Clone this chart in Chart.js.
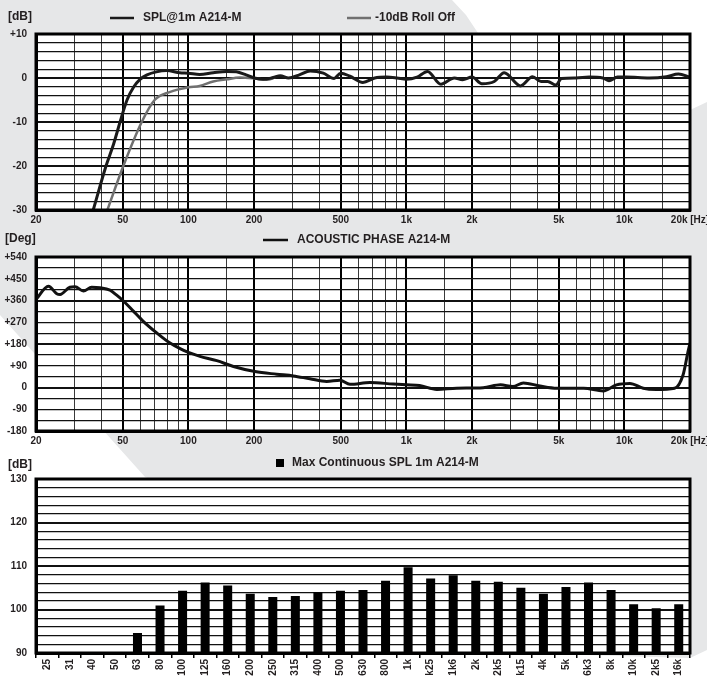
<!DOCTYPE html>
<html>
<head>
<meta charset="utf-8">
<script src="https://cdn.jsdelivr.net/npm/chart.js@4.4.1/dist/chart.umd.min.js"></script>
<style>
  html, body { margin: 0; padding: 0; background: #fff; }
  #page { position: relative; width: 707px; height: 681px; overflow: hidden; }
  #bg {
    position: absolute; left: 0; top: 0; width: 707px; height: 681px; background: #e6e7e8;
    clip-path: polygon(0 0, 452px 0, 466px 15px, 480px 36px, 690px 110px, 707px 102px, 707px 650px,
                       690px 658px, 585px 655px, 145px 477px, 0 315px);
  }
  canvas { position: absolute; left: 0; }
</style>
</head>
<body>
<div id="page">
  <div id="bg"></div>
  <canvas id="spl" width="707" height="230" style="top:0"></canvas>
  <canvas id="phase" width="707" height="221" style="top:230px"></canvas>
  <canvas id="maxspl" width="707" height="230" style="top:451px"></canvas>
</div>
<script>
// --- данные -----------------------------------------------------------------
const splFreq = [36.6, 41.9, 45.4, 48.6, 52.3, 56.2, 60, 64.6, 71.3, 79.4, 91.3, 100, 112.6, 130, 150, 166, 184,
  201, 220, 245, 264, 288, 323, 362, 416, 466, 500, 551, 632, 716, 812, 905, 1000, 1120, 1250, 1440, 1660, 1810,
  2000, 2220, 2530, 2810, 3340, 3790, 4150, 4450, 4850, 5150, 6000, 6900, 7960, 8500, 9300, 10200, 13000, 15600,
  17700, 20000];
const splDb = [-30, -20, -15, -10, -5, -2, -0.3, 0.7, 1.4, 1.7, 1.2, 1.1, 0.8, 1.2, 1.5, 1.4, 0.7,
  0, -0.3, 0.1, 0.5, 0, 0.7, 1.6, 1.1, -0.1, 1.1, 0.4, -1.0, 0, 0.2, 0, -0.3, 0.2, 1.5, -1.4, 0, -0.4,
  0.2, -1.3, -0.8, 1.2, -1.8, 0.3, -0.8, -0.8, -1.6, -0.1, 0, 0.2, 0, -0.6, 0.2, 0.2, 0, 0.3,
  0.9, 0.2];

const rollFreq = [42.5, 50.3, 61.1, 70, 82, 100, 112.6, 130, 150, 172, 201, 229, 250];
const rollDb = [-30, -20, -10, -5, -3.2, -2.1, -1.8, -0.8, -0.3, 0.1, -0.1, -0.4, 0.1];

const phaseFreq = [20, 22.8, 24.9, 25.8, 28.6, 30.2, 33, 36, 39.3, 43.7, 46.9, 50.5, 55.9, 62.1, 71.6, 82.4,
  91.6, 100, 113, 135, 161, 202, 254, 303, 361, 431, 496, 551, 681, 871, 1000, 1150, 1380, 1700, 2250, 2700,
  3080, 3440, 4100, 4900, 6500, 8000, 9200, 10600, 12200, 14000, 17000, 18600, 19600, 20000];
const phaseDeg = [364, 419, 388, 385, 415, 417, 399, 415, 413, 403, 382, 357, 316, 274, 226, 184,
  161, 145, 129, 111, 87, 66, 55, 48, 36, 25, 30, 13, 21, 14, 11, 8, -8, -3, -1, 11,
  4, 19, 6, -3, -3, -14, 11, 17, -3, -8, -3, 53, 150, 184];

const bandLabels = ['25', '31', '40', '50', '63', '80', '100', '125', '160', '200', '250', '315', '400', '500',
  '630', '800', '1k', 'k25', '1k6', '2k', '2k5', 'k15', '4k', '5k', '6k3', '8k', '10k', '2k5', '16k'];
const bandMaxSpl = [null, null, null, null, 94.6, 100.9, 104.3, 106.2, 105.5, 103.6, 102.9, 103.1, 104.0, 104.3,
  104.5, 106.6, 109.7, 107.1, 107.9, 106.6, 106.4, 105.0, 103.6, 105.2, 106.2, 104.5, 101.2, 100.3, 101.2];

// сетка и подписи осей
const gridFreqs = [20, 30, 40, 50, 60, 70, 80, 90, 100, 150, 200, 300, 400, 500, 600, 700, 800, 900,
  1000, 1500, 2000, 3000, 4000, 5000, 6000, 7000, 8000, 9000, 10000, 15000, 20000];
const boldFreqs = [50, 100, 200, 500, 1000, 2000, 5000, 10000];
const labeledFreqs = [20, 50, 100, 200, 500, 1000, 2000, 5000, 10000, 20000];
const labeledFreqText = ['20', '50', '100', '200', '500', '1k', '2k', '5k', '10k', '20k [Hz]'];
const splTicks = [-30, -28, -26, -24, -22, -20, -18, -16, -14, -12, -10, -8, -6, -4, -2, 0, 2, 4, 6, 8, 10];
const phaseTicks = [-180, -135, -90, -45, 0, 45, 90, 135, 180, 225, 270, 315, 360, 405, 450, 495, 540];
const maxSplTicks = [90, 92, 94, 96, 98, 100, 102, 104, 106, 108, 110, 112, 114, 116, 118, 120, 122, 124, 126, 128, 130];

// --- общие настройки ---------------------------------------------------------
const FONT = '"Liberation Sans", Arial, sans-serif';
const INK = '#231f20';
Chart.defaults.font.family = FONT;
Chart.defaults.font.size = 10;
Chart.defaults.font.weight = 'bold';
Chart.defaults.color = INK;

// белое поле графика, рамка, подписи единиц и легенда
const panelText = {
  id: 'panelText',
  beforeDraw(chart) {
    const { ctx, chartArea: a } = chart;
    ctx.save();
    ctx.fillStyle = '#fff';
    ctx.fillRect(a.left, a.top, a.width, a.height);
    ctx.restore();
  },
  afterDraw(chart, args, o) {
    const { ctx, chartArea: a } = chart;
    ctx.save();
    ctx.strokeStyle = '#000'; ctx.lineWidth = 3;
    ctx.strokeRect(a.left, a.top, a.width, a.height);
    ctx.font = 'bold 12px ' + FONT;
    ctx.textBaseline = 'middle';
    ctx.fillStyle = INK;
    ctx.fillText(o.unit, o.unitX, o.unitY);
    chart.data.datasets.forEach((ds, i) => {
      const x = o.keyX[i], y = o.keyY;
      if (o.box) {
        ctx.fillStyle = ds.backgroundColor;
        ctx.fillRect(x, y - 4, 8, 8);
      } else {
        ctx.strokeStyle = ds.borderColor; ctx.lineWidth = 2.5;
        ctx.beginPath(); ctx.moveTo(x, y); ctx.lineTo(x + o.keyW, y); ctx.stroke();
      }
      ctx.fillStyle = INK;
      ctx.fillText(ds.label, o.textX[i], y);
    });
    ctx.restore();
  }
};

function freqAxis() {
  return {
    type: 'logarithmic', min: 20, max: 20000,
    afterBuildTicks: s => { s.ticks = gridFreqs.map(v => ({ value: v })); },
    afterFit: s => { s.height = 20; s.paddingLeft = 0; s.paddingRight = 0; },
    ticks: {
      autoSkip: false, maxRotation: 0, minRotation: 0, padding: 4,
      callback: v => { const i = labeledFreqs.indexOf(v); return i < 0 ? '' : labeledFreqText[i]; }
    },
    grid: {
      drawTicks: false,
      color: c => (c.tick && boldFreqs.includes(c.tick.value)) ? '#000' : '#3a3a3a',
      lineWidth: c => {
        const v = c.tick && c.tick.value;
        return boldFreqs.includes(v) ? 2 : 1;
      }
    },
    border: { width: 3, color: '#000' }
  };
}

function valueAxis(min, max, ticks, boldStep, labelStep, fmt) {
  return {
    min, max,
    afterBuildTicks: s => { s.ticks = ticks.map(v => ({ value: v })); },
    afterFit: s => { s.width = 36; },
    ticks: {
      autoSkip: false, padding: 9,
      callback: v => (v % labelStep === 0) ? fmt(v) : ''
    },
    grid: {
      drawTicks: false, color: '#111',
      lineWidth: c => {
        const v = c.tick && c.tick.value;
        return (v % boldStep === 0) ? 2 : 1.2;
      }
    },
    border: { width: 3, color: '#000' }
  };
}

const signed = v => v > 0 ? '+' + v : String(v);
const base = {
  responsive: false, animation: false, events: [],
  elements: { point: { radius: 0 } }
};

// --- 1. АЧХ -----------------------------------------------------------------
new Chart(document.getElementById('spl'), {
  type: 'line',
  data: {
    datasets: [
      { label: 'SPL@1m A214-M', data: splFreq.map((f, i) => ({ x: f, y: splDb[i] })),
        borderColor: '#1a1a1a', borderWidth: 3, cubicInterpolationMode: 'monotone' },
      { label: '-10dB Roll Off', data: rollFreq.map((f, i) => ({ x: f, y: rollDb[i] })),
        borderColor: '#707070', borderWidth: 2.5, cubicInterpolationMode: 'monotone' }
    ]
  },
  options: {
    ...base,
    layout: { padding: { top: 34, right: 17, left: 0, bottom: 0 } },
    plugins: {
      legend: { display: false }, tooltip: { enabled: false },
      panelText: { unit: '[dB]', unitX: 8, unitY: 17, keyX: [110, 347], keyW: 24, keyY: 18, textX: [143, 375] }
    },
    scales: { x: freqAxis(), y: valueAxis(-30, 10, splTicks, 10, 10, signed) }
  },
  plugins: [panelText]
});

// --- 2. фаза ----------------------------------------------------------------
new Chart(document.getElementById('phase'), {
  type: 'line',
  data: {
    datasets: [
      { label: 'ACOUSTIC PHASE A214-M', data: phaseFreq.map((f, i) => ({ x: f, y: phaseDeg[i] })),
        borderColor: '#111', borderWidth: 3, cubicInterpolationMode: 'monotone' }
    ]
  },
  options: {
    ...base,
    layout: { padding: { top: 27, right: 17, left: 0, bottom: 0 } },
    plugins: {
      legend: { display: false }, tooltip: { enabled: false },
      panelText: { unit: '[Deg]', unitX: 5, unitY: 9, keyX: [263], keyW: 25, keyY: 10, textX: [297] }
    },
    scales: { x: freqAxis(), y: valueAxis(-180, 540, phaseTicks, 180, 90, signed) }
  },
  plugins: [panelText]
});

// --- 3. макс. SPL по третьоктавным полосам -----------------------------------
new Chart(document.getElementById('maxspl'), {
  type: 'bar',
  data: {
    labels: bandLabels,
    datasets: [
      { label: 'Max Continuous SPL 1m A214-M', data: bandMaxSpl, backgroundColor: '#000',
        barPercentage: 0.4, categoryPercentage: 1 }
    ]
  },
  options: {
    ...base,
    layout: { padding: { top: 28, right: 17, left: 0, bottom: 0 } },
    plugins: {
      legend: { display: false }, tooltip: { enabled: false },
      panelText: { unit: '[dB]', unitX: 8, unitY: 14, box: true, keyX: [276], keyY: 12, textX: [292] }
    },
    scales: {
      x: {
        offset: true,
        afterFit: s => { s.height = 28; s.paddingLeft = 0; s.paddingRight = 0; },
        ticks: { autoSkip: false, minRotation: 90, maxRotation: 90, padding: 1 },
        grid: { offset: true, drawOnChartArea: false, drawTicks: true, tickLength: 5, color: '#000', lineWidth: 1.5 },
        border: { width: 3, color: '#000' }
      },
      y: valueAxis(90, 130, maxSplTicks, 10, 10, v => String(v))
    }
  },
  plugins: [panelText]
});
</script>
</body>
</html>
